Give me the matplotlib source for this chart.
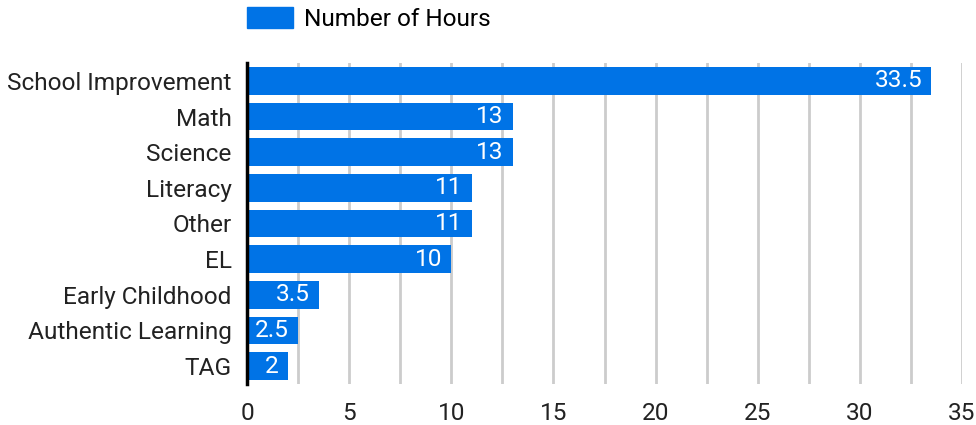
import matplotlib.pyplot as plt
from matplotlib.patches import Patch

categories = ['School Improvement', 'Math', 'Science', 'Literacy', 'Other', 'EL',
              'Early Childhood', 'Authentic Learning', 'TAG']
hours = [33.5, 13, 13, 11, 11, 10, 3.5, 2.5, 2]
value_labels = ['33.5', '13', '13', '11', '11', '10', '3.5', '2.5', '2']

plt.rcParams['font.family'] = ['Roboto', 'DejaVu Sans']
bar_color = '#0073e6'
fs = 17.6

fig = plt.figure(figsize=(9.76, 4.25), dpi=100)
ax = fig.add_axes([247 / 976, 1 - 384 / 425, 715 / 976, 321 / 425])

y = list(range(len(categories)))
ax.barh(y, hours, height=0.78, color=bar_color, zorder=3)
for yi, v, lab in zip(y, hours, value_labels):
    ax.text(v - 0.45, yi, lab, color='white', ha='right', va='center',
            fontsize=fs, zorder=4)

ax.set_ylim(len(categories) - 0.5, -0.5)
ax.set_xlim(0, 35)
ax.set_yticks(y)
ax.set_yticklabels(categories, fontsize=fs, color='#222222')
ax.set_xticks(range(0, 36, 5))
ax.set_xticklabels([str(t) for t in range(0, 36, 5)], fontsize=fs, color='#222222')
ax.set_xticks([x + 2.5 for x in range(0, 35, 5)], minor=True)
ax.grid(axis='x', which='both', color='#cccccc', linewidth=2, zorder=0)
ax.tick_params(axis='both', which='both', length=0)
ax.tick_params(axis='y', pad=11)
ax.tick_params(axis='x', pad=13)
for s in ['top', 'right', 'bottom']:
    ax.spines[s].set_visible(False)
ax.spines['left'].set_linewidth(2.5)
ax.spines['left'].set_color('black')
ax.spines['left'].set_zorder(5)

fig.legend(handles=[Patch(color=bar_color, label='Number of Hours')],
           loc='center left', bbox_to_anchor=(225 / 976, 1 - 19 / 425),
           frameon=False, fontsize=fs, handlelength=1.9, handleheight=0.95,
           handletextpad=0.45)

fig.savefig('out.png', dpi=100)
